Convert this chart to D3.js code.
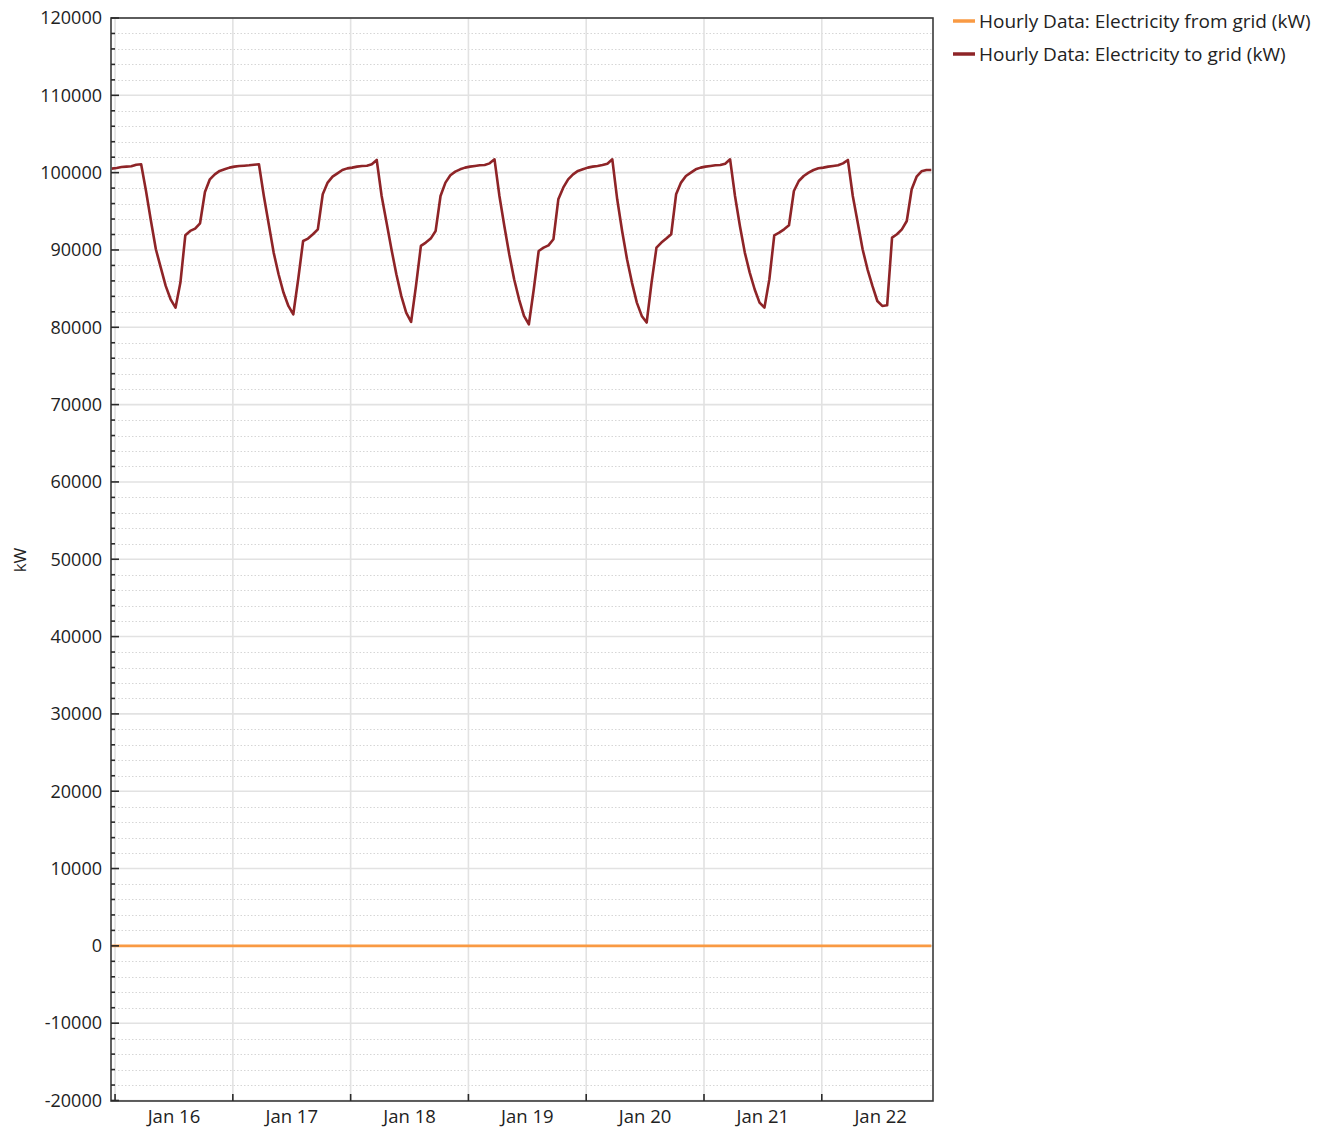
<!DOCTYPE html>
<html><head><meta charset="utf-8">
<script src="https://cdn.jsdelivr.net/npm/d3@7/dist/d3.min.js"></script>
<style>
body{margin:0;background:#fff;}
text{font-family:"Open Sans","Noto Sans",sans-serif;fill:#222;}
</style>
</head><body>
<svg id="chart" width="1329" height="1130"></svg>
<script>
const seriesNames = ["Hourly Data: Electricity from grid (kW)", "Hourly Data: Electricity to grid (kW)"];
const seriesColors = ["#f99a43", "#8e2427"];
const dayLabels = ["Jan 16","Jan 17","Jan 18","Jan 19","Jan 20","Jan 21","Jan 22"];
const yAxisLabel = "kW";
const yMajorTicks = [-20000,-10000,0,10000,20000,30000,40000,50000,60000,70000,80000,90000,100000,110000,120000];
const yMinorStep = 2000;

// Hourly values, Jan 16 00:00 .. Jan 22 23:00
const electricityToGrid = [
100520,100600,100730,100780,100820,101030,101080,97590,93750,90090,87720,85350,83620,82540,85780,91900,92460,92760,93450,97500,99140,99780,100220,100430,
100650,100780,100860,100900,100950,101030,101080,96980,93320,89660,86860,84490,82760,81680,86210,91160,91470,92030,92670,97200,98710,99480,99910,100340,
100550,100650,100780,100860,100900,101080,101640,96980,93540,90090,86860,84060,81900,80690,85350,90520,90950,91470,92460,96980,98710,99660,100130,100430,
100650,100780,100860,100950,100990,101200,101720,96980,93100,89440,86210,83620,81470,80390,84920,89870,90300,90600,91380,96550,98060,99140,99780,100220,
100430,100650,100780,100860,100990,101160,101720,96550,92460,88800,85780,83190,81470,80610,85780,90300,90950,91470,92030,97200,98710,99570,100000,100430,
100650,100780,100860,100950,100990,101160,101720,96980,93100,89660,87070,84920,83190,82540,86210,91900,92240,92670,93190,97630,98920,99570,100000,100340,
100560,100650,100780,100860,100950,101200,101640,96980,93540,90090,87500,85350,83400,82760,82840,91590,92030,92670,93750,97850,99480,100170,100340,100340
];
const electricityFromGrid = [
0,0,0,0,0,0,0,0,0,0,0,0,0,0,0,0,0,0,0,0,0,0,0,0,
0,0,0,0,0,0,0,0,0,0,0,0,0,0,0,0,0,0,0,0,0,0,0,0,
0,0,0,0,0,0,0,0,0,0,0,0,0,0,0,0,0,0,0,0,0,0,0,0,
0,0,0,0,0,0,0,0,0,0,0,0,0,0,0,0,0,0,0,0,0,0,0,0,
0,0,0,0,0,0,0,0,0,0,0,0,0,0,0,0,0,0,0,0,0,0,0,0,
0,0,0,0,0,0,0,0,0,0,0,0,0,0,0,0,0,0,0,0,0,0,0,0,
0,0,0,0,0,0,0,0,0,0,0,0,0,0,0,0,0,0,0,0,0,0,0,0
];
const startTime = new Date(2021, 0, 16, 0, 0);
const dayTickOffsetMinutes = 41;
const endPaddingMinutes = 12;

const times = electricityToGrid.map((_, i) => d3.timeHour.offset(startTime, i));

const plot = {left: 111, right: 933, top: 18, bottom: 1101};
const svg = d3.select("#chart");

const x = d3.scaleTime()
  .domain([times[0], d3.timeMinute.offset(times[times.length - 1], endPaddingMinutes)])
  .range([plot.left + 0.7, plot.right - 0.7]);
const y = d3.scaleLinear().domain([-20000, 120000]).range([1100.5, 18]);

const dayTicks = dayLabels.map((_, i) => d3.timeMinute.offset(d3.timeDay.offset(startTime, i), dayTickOffsetMinutes));
const dayMid = dayLabels.map((_, i) => d3.timeMinute.offset(d3.timeHour.offset(startTime, i * 24 + 12), dayTickOffsetMinutes));

const minorTicks = d3.range(-20000, 120001, yMinorStep).filter(v => !yMajorTicks.includes(v));

svg.append("defs").append("clipPath").attr("id", "clip")
  .append("rect").attr("x", plot.left).attr("y", plot.top)
  .attr("width", plot.right - plot.left).attr("height", plot.bottom - plot.top);

const grid = svg.append("g");
grid.selectAll(".minor").data(minorTicks).join("line")
  .attr("x1", plot.left).attr("x2", plot.right)
  .attr("y1", d => Math.round(y(d)) + 0.5).attr("y2", d => Math.round(y(d)) + 0.5)
  .attr("stroke", "#d6d6d6").attr("stroke-width", 1).attr("stroke-dasharray", "1.5,2");
grid.selectAll(".major").data(yMajorTicks).join("line")
  .attr("x1", plot.left).attr("x2", plot.right)
  .attr("y1", d => y(d)).attr("y2", d => y(d))
  .attr("stroke", "#e2e2e2").attr("stroke-width", 1.6);
grid.selectAll(".vgrid").data(dayTicks).join("line")
  .attr("x1", d => x(d)).attr("x2", d => x(d))
  .attr("y1", plot.top).attr("y2", plot.bottom)
  .attr("stroke", "#e2e2e2").attr("stroke-width", 1.6);

const line = d3.line().x((d, i) => x(times[i])).y(d => y(d));
const lines = svg.append("g").attr("clip-path", "url(#clip)");
lines.append("path").datum(electricityFromGrid)
  .attr("d", line).attr("fill", "none")
  .attr("stroke", seriesColors[0]).attr("stroke-width", 2.6);
lines.append("path").datum(electricityToGrid)
  .attr("d", line).attr("fill", "none")
  .attr("stroke", seriesColors[1]).attr("stroke-width", 2.6)
  .attr("stroke-linejoin", "round");

// frame
svg.append("rect").attr("x", plot.left).attr("y", plot.top)
  .attr("width", plot.right - plot.left).attr("height", plot.bottom - plot.top)
  .attr("fill", "none").attr("stroke", "#3a3a3a").attr("stroke-width", 1.6);

// y ticks (inward)
const yt = svg.append("g").attr("stroke", "#2a2a2a").attr("stroke-width", 1.6);
yt.selectAll(".ymaj").data(yMajorTicks).join("line")
  .attr("x1", plot.left).attr("x2", plot.left + 8)
  .attr("y1", d => y(d)).attr("y2", d => y(d));
yt.selectAll(".ymin").data(minorTicks).join("line")
  .attr("x1", plot.left).attr("x2", plot.left + 4)
  .attr("y1", d => y(d)).attr("y2", d => y(d));
// x ticks (inward)
yt.selectAll(".xt").data(dayTicks).join("line")
  .attr("x1", d => x(d)).attr("x2", d => x(d))
  .attr("y1", plot.bottom).attr("y2", plot.bottom - 7);

// y labels
svg.append("g").selectAll("text").data(yMajorTicks).join("text")
  .attr("x", 102).attr("y", d => y(d)).attr("dy", "0.35em")
  .attr("text-anchor", "end").attr("font-size", 18)
  .text(d => d);

// x labels
svg.append("g").selectAll("text").data(dayLabels).join("text")
  .attr("x", (d, i) => x(dayMid[i])).attr("y", 1117).attr("dy", "0.35em")
  .attr("text-anchor", "middle").attr("font-size", 18.5)
  .text(d => d);

// y axis title
svg.append("text").attr("transform", "translate(20,560) rotate(-90)")
  .attr("dy", "0.35em").attr("text-anchor", "middle").attr("font-size", 17)
  .text(yAxisLabel);

// legend
const lg = svg.append("g");
seriesNames.forEach((name, i) => {
  const cy = 21 + i * 33;
  lg.append("line").attr("x1", 953).attr("x2", 975).attr("y1", cy).attr("y2", cy)
    .attr("stroke", seriesColors[i]).attr("stroke-width", 3.5);
  lg.append("text").attr("x", 979).attr("y", cy).attr("dy", "0.35em")
    .attr("font-size", 19).text(name);
});
</script>
</body></html>
